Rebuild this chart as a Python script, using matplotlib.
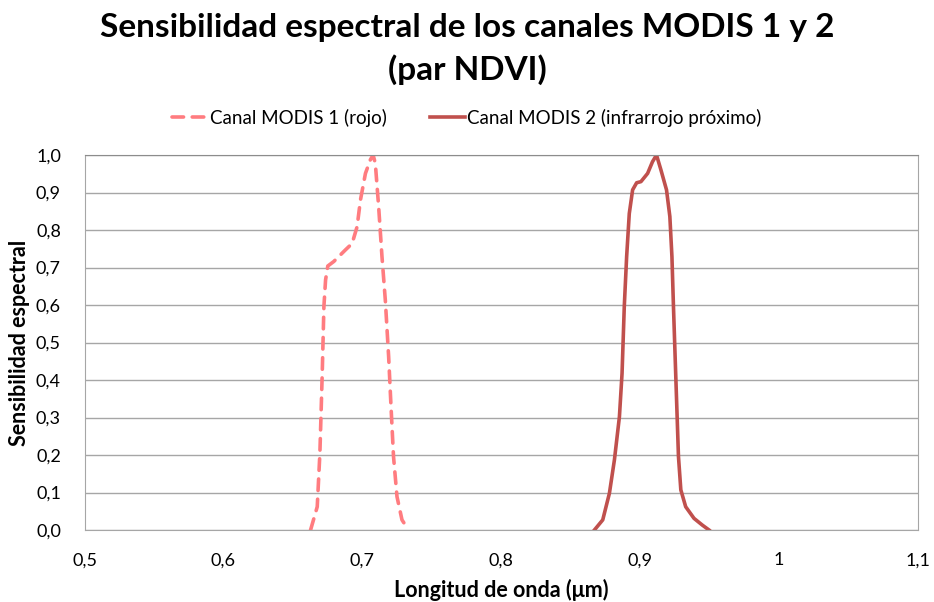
import matplotlib
matplotlib.use("Agg")
import matplotlib.pyplot as plt
from matplotlib.ticker import FuncFormatter

plt.rcParams['font.family'] = ['Lato', 'DejaVu Sans']

# datos
wl_canal1 = [0.6627, 0.6675, 0.6694, 0.6711, 0.6723, 0.6735, 0.6751, 0.6794, 0.6878,
             0.6926, 0.6962, 0.6986, 0.7022, 0.7057, 0.7077, 0.7093, 0.7117, 0.7141,
             0.7165, 0.7189, 0.7206, 0.7224, 0.7249, 0.7285, 0.7332]
sens_canal1 = [0.0, 0.062, 0.204, 0.418, 0.596, 0.667, 0.704, 0.716, 0.747,
               0.764, 0.809, 0.88, 0.951, 0.987, 1.0, 0.978, 0.862, 0.729,
               0.613, 0.462, 0.329, 0.196, 0.089, 0.027, 0.0]

wl_canal2 = [0.867, 0.873, 0.8778, 0.8814, 0.885, 0.8869, 0.8885, 0.8902, 0.8921,
             0.8945, 0.8974, 0.9005, 0.9053, 0.9088, 0.9117, 0.9149, 0.9189, 0.9213,
             0.9228, 0.9239, 0.9251, 0.9263, 0.9275, 0.9292, 0.9327, 0.9387, 0.9447,
             0.9495]
sens_canal2 = [0.0, 0.027, 0.098, 0.187, 0.302, 0.418, 0.596, 0.729, 0.844,
               0.907, 0.926, 0.929, 0.951, 0.982, 1.0, 0.96, 0.907, 0.836,
               0.729, 0.596, 0.462, 0.329, 0.196, 0.107, 0.062, 0.031, 0.013,
               0.0]

fig = plt.figure(figsize=(9.34, 6.02), dpi=100)
ax = fig.add_axes([0.0905, 0.1196, 0.8925, 0.6229])

ax.plot(wl_canal1, sens_canal1, color='#FF7C80', lw=2.6, dashes=(3.2, 2.4),
        dash_capstyle='round', label='Canal MODIS 1 (rojo)')
ax.plot(wl_canal2, sens_canal2, color='#C0504D', lw=2.6,
        label='Canal MODIS 2 (infrarrojo próximo)')

ax.set_xlim(0.5, 1.1)
ax.set_ylim(0, 1.0)
ax.set_xticks([0.5, 0.6, 0.7, 0.8, 0.9, 1.0, 1.1])
ax.set_yticks([i / 10 for i in range(11)])


def fmt_x(v, pos):
    s = f"{v:.1f}"
    if s.endswith('.0'):
        s = s[:-2]
    return s.replace('.', ',')


ax.xaxis.set_major_formatter(FuncFormatter(fmt_x))
ax.yaxis.set_major_formatter(FuncFormatter(lambda v, p: f"{v:.1f}".replace('.', ',')))
ax.tick_params(axis='both', length=0, labelsize=13, colors='black')
ax.tick_params(axis='x', pad=16)
ax.tick_params(axis='y', pad=17)

ax.grid(axis='y', color='#a6a6a6', lw=1)
ax.set_axisbelow(True)
for side in ['left', 'bottom', 'right']:
    ax.spines[side].set_color('#a6a6a6')
ax.spines['top'].set_color('#8c8c8c')

ax.set_xlabel('Longitud de onda (μm)', fontsize=15.5, fontweight='bold', labelpad=8)
ax.set_ylabel('Sensibilidad espectral', fontsize=15.5, fontweight='bold', labelpad=4)

fig.text(0.5, 0.978, 'Sensibilidad espectral de los canales MODIS 1 y 2\n(par NDVI)',
         ha='center', va='top', fontsize=24, fontweight='bold', linespacing=1.45)

ax.legend(loc='center', bbox_to_anchor=(0.5, 0.804), bbox_transform=fig.transFigure,
          ncol=2, frameon=False, fontsize=13.5, handlelength=1.9, handletextpad=0.1,
          columnspacing=2.3)

plt.savefig('out.png', dpi=100)
